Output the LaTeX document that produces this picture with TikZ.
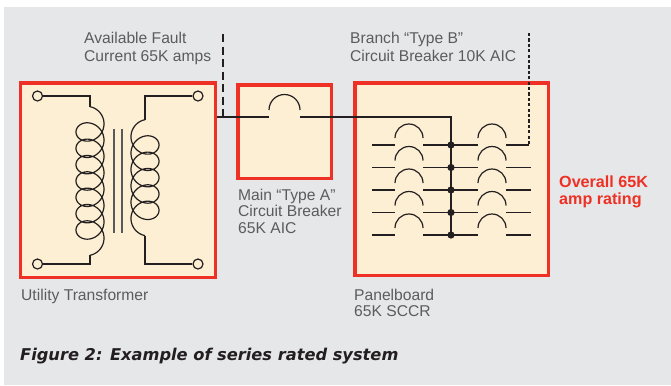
\documentclass[tikz,border=0pt]{standalone}
\usepackage{fontspec}
\setmainfont{Liberation Sans}
\newfontfamily\capfont{DejaVu Sans}
\definecolor{bg}{HTML}{E6E7E8}
\definecolor{cream}{HTML}{FDEFD3}
\definecolor{redb}{HTML}{EE3124}
\definecolor{ink}{HTML}{231F20}
\definecolor{txt}{HTML}{5B5C5E}
\definecolor{core}{HTML}{58595B}
\begin{document}
\begin{tikzpicture}[x=1bp,y=-1bp,
  redbox/.style={draw=redb, fill=cream, line width=3.5bp, rectangle, inner sep=0pt},
  wire/.style={draw=ink, line width=1.2bp},
  term/.style={circle, draw=ink, fill=cream, line width=1.2bp, minimum size=10bp, inner sep=0pt},
  busdot/.style={circle, fill=ink, minimum size=7.2bp, inner sep=0pt},
  lbl/.style={anchor=base west, inner sep=0pt, text=txt, font=\fontsize{15.7}{17}\selectfont},
  redlbl/.style={anchor=base west, inner sep=0pt, text=redb, font=\fontsize{16.2}{17}\selectfont\bfseries},
  caption/.style={anchor=base west, inner sep=0pt, text=ink, font=\capfont\fontsize{16.3}{19}\selectfont\bfseries\itshape},
  faultdash/.style={ink, line width=2.6bp, dash pattern=on 8bp off 4.5bp},
  branchdash/.style={ink, line width=2.6bp, dash pattern=on 3.2bp off 2.2bp}]
\useasboundingbox (0,0) rectangle (671,385);
\fill[bg] (4,7) rectangle (671,385);

% boxes
\node[redbox, minimum width=194.5bp, minimum height=194.5bp] (xfmr) at (118,180) {};
\node[redbox, minimum width=93.5bp, minimum height=93.5bp] (mainbox) at (284.5,131.5) {};
\node[redbox, minimum width=193.5bp, minimum height=192.5bp] (panel) at (451.5,179) {};

% transformer terminals
\node[term] (t1) at (37.5,96) {};
\node[term] (t2) at (198,96) {};
\node[term] (t3) at (37.5,264) {};
\node[term] (t4) at (198,264) {};
\coordinate (lc1) at (90,106.7);
\coordinate (lc2) at (90,255.2);
\coordinate (rc1) at (145,119.7);
\coordinate (rc2) at (145,235.6);
\draw[wire] (t1) -- (t1 -| lc1) -- (lc1);
\draw[wire] (t3) -- (t3 -| lc2) -- (lc2);
\draw[wire] (t2) -- (t2 -| rc1) -- (rc1);
\draw[wire] (t4) -- (t4 -| rc2) -- (rc2);
% coils
\draw[wire] plot[domain=-pi/2:14.5*pi, samples=700] ({90+14*cos(\x r)}, {123.8+2.6*\x+13*sin(\x r)});
\draw[wire] plot[domain=-pi/2:10.5*pi, samples=500] ({145-14*cos(\x r)}, {136.8+2.6*\x+13*sin(\x r)});
% core
\draw[core, line width=1.5bp] (114,129) -- (114,233);
\draw[core, line width=1.5bp] (122,129) -- (122,233);

% main breaker
\coordinate (mA) at (269,117);
\coordinate (mB) at (300,117);
\coordinate (busTop) at (451,117);
\draw[wire] (269,110) arc[start angle=180, end angle=360, radius=15.5];
\draw[wire] (xfmr.east |- mA) -- (mA);

% panel rows
\foreach \i/\y in {1/145,2/167.5,3/190,4/212.5,5/235}{
  \node[busdot] (d\i) at (451,\y) {};
  \draw[wire] (372,\y) -- (395,\y);
  \draw[wire] (423,\y) -- (d\i.center) -- (478,\y);
  \draw[wire] (395,{\y-7}) arc[start angle=180, end angle=360, radius=14];
  \draw[wire] (478,{\y-7}) arc[start angle=180, end angle=360, radius=14];
}
\foreach \y in {167.5,190,212.5,235}{
  \draw[wire] (506,\y) -- (531,\y);
}
\draw[wire] (mB) -- (busTop) -- (d5.center);

% fault current dashed marker
\coordinate (fTop) at (223,34);
\draw[faultdash] (fTop) -- (fTop |- mA);
% branch dashed marker
\coordinate (bTop) at (529,33);
\coordinate (bEnd) at (529,145);
\draw[wire] (506,145) -- (bEnd);
\draw[branchdash] (bTop) -- (bEnd);

% texts
\node[lbl] (fault1) at (84,43) {Available Fault};
\node[lbl] (fault2) at (84,61) {Current 65K amps};
\node[lbl] (br1) at (350,43) {Branch “Type B”};
\node[lbl] (br2) at (350,61) {Circuit Breaker 10K AIC};
\node[lbl] (ma1) at (238,200) {Main “Type A”};
\node[lbl] (ma2) at (238,216.7) {Circuit Breaker};
\node[lbl] (ma3) at (238,233.3) {65K AIC};
\node[lbl] (ut) at (21,300) {Utility Transformer};
\node[lbl] (pb1) at (354,300) {Panelboard};
\node[lbl] (pb2) at (354,316.5) {65K SCCR};
\node[redlbl] (ov1) at (559,187.7) {Overall 65K};
\node[redlbl] (ov2) at (559,204.5) {amp rating};
\node[caption] (cap) at (20,360) {Figure 2: Example of series rated system};
\end{tikzpicture}
\end{document}
